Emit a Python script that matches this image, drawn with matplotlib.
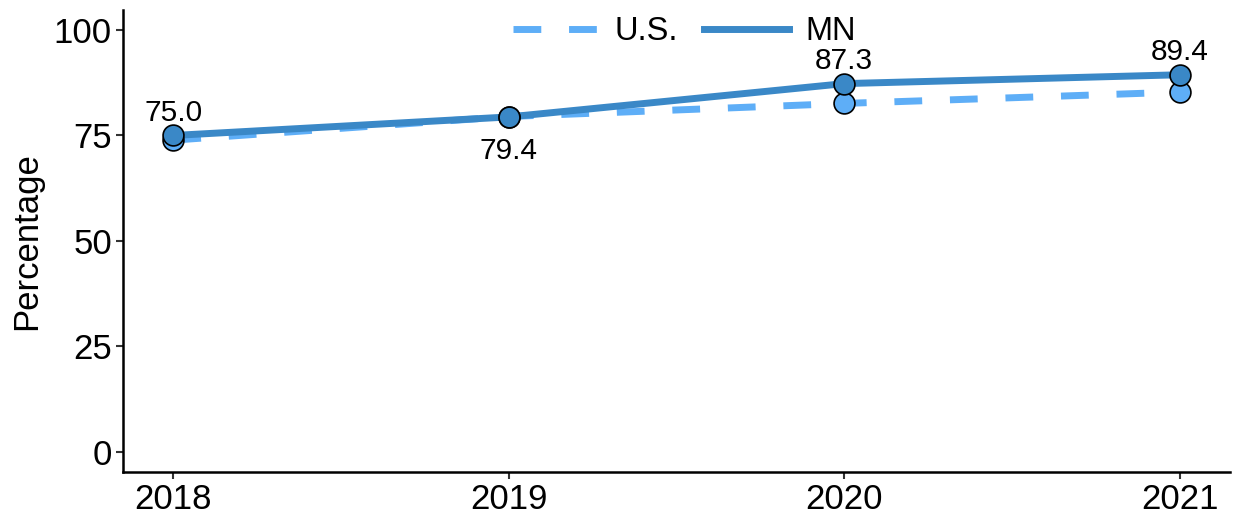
import matplotlib
matplotlib.use("Agg")
import matplotlib.pyplot as plt
from matplotlib.lines import Line2D

plt.rcParams['font.family'] = ['Liberation Sans', 'DejaVu Sans']

years = [2018, 2019, 2020, 2021]
us_values = [73.9, 79.5, 82.6, 85.3]
mn_values = [75.0, 79.4, 87.3, 89.4]
mn_labels = ["75.0", "79.4", "87.3", "89.4"]
y_ticks = [0, 25, 50, 75, 100]

us_color = "#5EAEF7"
mn_color = "#3A88C7"

fig = plt.figure(figsize=(12.36, 5.17), dpi=100)
ax = fig.add_axes([0.0995, 0.087, 0.8955, 0.894])

ax.plot(years, us_values, color=us_color, lw=5, dashes=(4, 4), zorder=2)
ax.plot(years, mn_values, color=mn_color, lw=5, zorder=3)
ax.plot(years, us_values, 'o', color=us_color, markersize=15, markeredgecolor='black', markeredgewidth=1.2, zorder=4)
ax.plot(years, mn_values, 'o', color=mn_color, markersize=15, markeredgecolor='black', markeredgewidth=1.2, zorder=5)

offsets = [16.5, -24.5, 16.5, 16.5]
for x, y, lab, off in zip(years, mn_values, mn_labels, offsets):
    ax.annotate(lab, (x, y), xytext=(0, off), textcoords='offset points',
                ha='center', va='center', fontsize=21.5, color='black', zorder=6)

ax.set_xlim(2017.85, 2021.15)
ax.set_ylim(-4.8, 104.8)
ax.set_xticks(years)
ax.set_xticklabels([str(y) for y in years])
ax.set_yticks(y_ticks)
ax.tick_params(axis='both', labelsize=25, color='#333333', length=5, width=1.5, labelcolor='black', pad=3)
for s in ['top', 'right']:
    ax.spines[s].set_visible(False)
for s in ['left', 'bottom']:
    ax.spines[s].set_linewidth(1.8)
    ax.spines[s].set_color('black')
ax.set_ylabel("Percentage", fontsize=25, labelpad=8)

handles = [Line2D([0], [0], color=us_color, lw=5, dashes=(4, 4)),
           Line2D([0], [0], color=mn_color, lw=5)]
ax.legend(handles, ["U.S.", "MN"], loc='upper center', bbox_to_anchor=(0.507, 1.05),
          ncol=2, frameon=False, fontsize=23.5, handlelength=2.6, columnspacing=0.8,
          handletextpad=0.5)

fig.savefig("out.png", dpi=100)
